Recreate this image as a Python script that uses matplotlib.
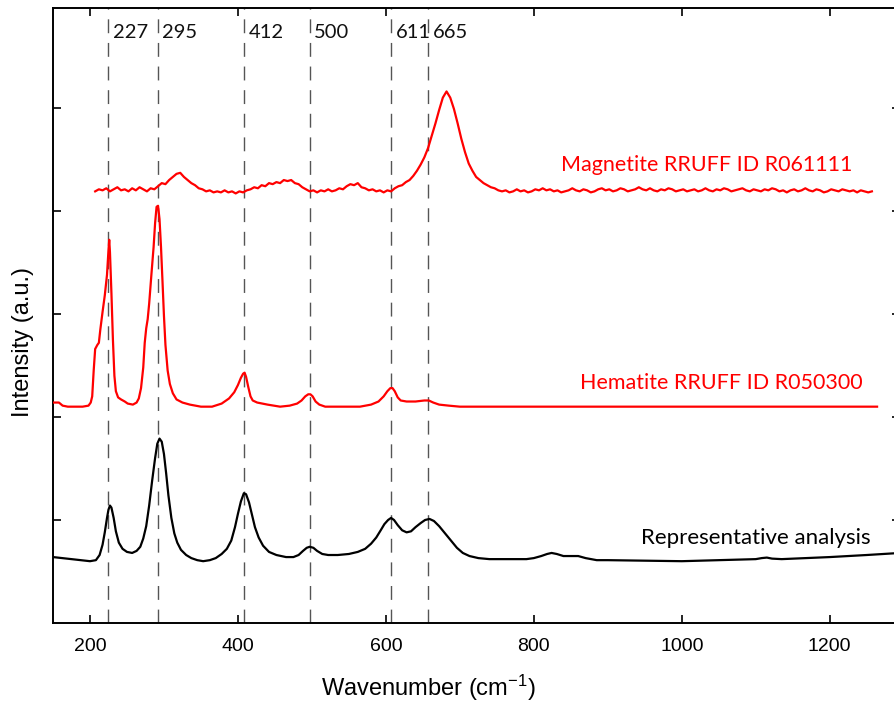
import numpy as np
import matplotlib
matplotlib.use("Agg")
import matplotlib.pyplot as plt

plt.rcParams['font.family'] = ['Liberation Sans', 'DejaVu Sans']
plt.rcParams['mathtext.default'] = 'regular'

# Representative analysis (black)
rep_x = [150, 175, 200, 208, 213, 217, 220, 223, 225, 227, 229, 232, 235, 239, 244, 250,
         257, 263, 268, 272, 276, 280, 284, 288, 291, 294, 297, 300, 303, 306, 310, 314,
         318, 323, 330, 337, 345, 353, 362, 370, 378, 385, 391, 396, 400, 404, 408, 411,
         415, 419, 423, 428, 434, 442, 452, 465, 475, 482, 488, 493, 497, 502, 507, 514,
         522, 535, 550, 562, 572, 580, 587, 593, 598, 603, 607, 611, 616, 622, 628, 634,
         640, 647, 653, 659, 665, 672, 680, 688, 696, 704, 713, 725, 740, 790, 800, 810,
         818, 824, 831, 840, 850, 860, 870, 885, 900, 1000, 1100, 1108, 1115, 1122, 1135,
         1200, 1250, 1295]
rep_y = [0.64, 0.62, 0.60, 0.61, 0.66, 0.76, 0.88, 1.02, 1.10, 1.14, 1.12, 1.02, 0.89, 0.78, 0.72, 0.69,
         0.68, 0.70, 0.74, 0.82, 0.94, 1.14, 1.38, 1.60, 1.74, 1.79, 1.76, 1.64, 1.45, 1.24, 1.02, 0.87,
         0.78, 0.71, 0.66, 0.63, 0.61, 0.60, 0.61, 0.63, 0.67, 0.72, 0.80, 0.93, 1.06, 1.18, 1.26, 1.25,
         1.17, 1.05, 0.93, 0.83, 0.75, 0.69, 0.66, 0.64, 0.64, 0.66, 0.70, 0.73, 0.74, 0.73, 0.70, 0.67,
         0.66, 0.66, 0.67, 0.69, 0.72, 0.77, 0.83, 0.90, 0.96, 1.00, 1.02, 1.00, 0.95, 0.90, 0.88, 0.89,
         0.93, 0.97, 1.00, 1.01, 0.99, 0.94, 0.87, 0.80, 0.73, 0.68, 0.65, 0.63, 0.62, 0.62, 0.63, 0.65,
         0.67, 0.68, 0.67, 0.65, 0.65, 0.65, 0.63, 0.61, 0.61, 0.60, 0.62, 0.63, 0.635, 0.625, 0.62,
         0.64, 0.66, 0.68]

# Hematite RRUFF R050300
hem_x = [150, 158, 163, 170, 190, 198, 201, 203, 205, 207, 210, 212, 214, 217, 220, 223,
         225, 226, 227, 229, 231, 233, 235, 238, 242, 247, 251, 258, 263, 266, 269, 272,
         274, 276, 278, 280, 283, 286, 288, 290, 292, 294, 296, 298, 300, 302, 305, 308,
         312, 317, 325, 335, 350, 365, 378, 388, 395, 400, 404, 407, 409, 411, 414, 417,
         420, 426, 440, 457, 470, 480, 486, 491, 495, 498, 501, 505, 510, 518, 540, 565,
         580, 590, 597, 602, 606, 609, 612, 616, 620, 628, 640, 652, 658, 664, 672, 685,
         700, 1264]
hem_y = [2.14, 2.14, 2.11, 2.10, 2.10, 2.11, 2.14, 2.20, 2.45, 2.66, 2.70, 2.72, 2.85, 3.02, 3.18, 3.38,
         3.62, 3.72, 3.60, 3.20, 2.75, 2.40, 2.25, 2.19, 2.17, 2.15, 2.13, 2.12, 2.14, 2.18, 2.28, 2.48,
         2.72, 2.86, 2.95, 3.10, 3.38, 3.65, 3.88, 4.04, 4.05, 3.92, 3.65, 3.32, 2.98, 2.70, 2.45, 2.32,
         2.23, 2.17, 2.14, 2.12, 2.10, 2.10, 2.13, 2.18, 2.24, 2.31, 2.38, 2.42, 2.43, 2.39, 2.29, 2.20,
         2.16, 2.14, 2.12, 2.10, 2.11, 2.13, 2.16, 2.20, 2.22, 2.22, 2.20, 2.15, 2.12, 2.10, 2.10, 2.10,
         2.12, 2.15, 2.20, 2.25, 2.28, 2.28, 2.25, 2.19, 2.16, 2.15, 2.15, 2.16, 2.16, 2.14, 2.12, 2.11,
         2.10, 2.10]

# Magnetite RRUFF R061111, one reading every 5 cm-1 from 207
mag_start, mag_step = 207, 5
mag_y = [4.19, 4.21, 4.20, 4.22, 4.19, 4.21, 4.23, 4.20, 4.21, 4.19, 4.22, 4.20, 4.23, 4.21, 4.19, 4.22,
         4.21,
         4.24, 4.27, 4.26, 4.30, 4.33, 4.36, 4.37, 4.33,
         4.30, 4.27, 4.25, 4.22, 4.21, 4.19, 4.20, 4.18, 4.19, 4.18, 4.20, 4.18, 4.19, 4.17, 4.19, 4.18,
         4.20,
         4.21, 4.23, 4.22, 4.25, 4.24, 4.27, 4.26, 4.28, 4.27, 4.30, 4.29, 4.30, 4.27, 4.26, 4.23, 4.21,
         4.19,
         4.20, 4.18, 4.20, 4.19, 4.21, 4.19, 4.20, 4.22, 4.21, 4.24, 4.26, 4.25, 4.27, 4.23, 4.22, 4.20,
         4.21, 4.19, 4.20, 4.18, 4.20, 4.19, 4.22,
         4.24, 4.25, 4.28, 4.30, 4.34, 4.39, 4.45, 4.52, 4.61, 4.73, 4.85, 4.98, 5.10, 5.16, 5.10, 4.99,
         4.85, 4.70, 4.57, 4.46, 4.39, 4.33, 4.30,
         4.27, 4.25, 4.23, 4.22, 4.20, 4.19,
         4.20, 4.18, 4.19, 4.21, 4.19, 4.20, 4.18, 4.19, 4.21, 4.20,
         4.22, 4.20, 4.21, 4.19, 4.20, 4.18, 4.19, 4.20, 4.22, 4.20,
         4.19, 4.21, 4.20, 4.18, 4.19, 4.21, 4.22, 4.20, 4.21, 4.19,
         4.20, 4.22, 4.21, 4.19, 4.20, 4.21, 4.23, 4.21, 4.20, 4.22,
         4.20, 4.19, 4.21, 4.20, 4.22, 4.21, 4.19, 4.20, 4.21, 4.19,
         4.20, 4.21, 4.19, 4.20, 4.22, 4.20, 4.19, 4.21, 4.20, 4.22,
         4.21, 4.19, 4.20, 4.21, 4.22, 4.20, 4.19, 4.21, 4.20, 4.19,
         4.21, 4.20, 4.22, 4.21, 4.19, 4.20, 4.18, 4.20, 4.21, 4.19,
         4.20, 4.22, 4.20, 4.19, 4.21, 4.20, 4.18, 4.19, 4.21, 4.20,
         4.19, 4.21, 4.20, 4.19, 4.20, 4.18, 4.20, 4.19, 4.18, 4.19]
mag_x = mag_start + mag_step * np.arange(len(mag_y))

# marked bands
band_pos = [224.5, 292, 408.5, 497, 607, 657]
band_labels = ['227', '295', '412', '500', '611', '665']

fig = plt.figure(figsize=(8.94, 7.04), dpi=100)
ax = fig.add_axes([53 / 894, 1 - 623 / 704, 847 / 894, 615 / 704])

for b in band_pos:
    ax.axvline(b, color='#555555', lw=1.0, dashes=(10, 7), zorder=1)

ax.plot(mag_x, mag_y, color='#ff0000', lw=1.6, zorder=3)
ax.plot(hem_x, hem_y, color='#ff0000', lw=1.6, zorder=3)
ax.plot(rep_x, rep_y, color='black', lw=1.6, zorder=3)

for b, lab in zip(band_pos, band_labels):
    ax.text(b + 6, 5.73, lab, fontsize=14.5, family=['Lato', 'DejaVu Sans'],
            ha='left', va='center', color='#111111')

ax.text(1231, 4.45, 'Magnetite RRUFF ID R061111', color='#ff0000', fontsize=15.5,
        family=['Lato', 'DejaVu Sans'], ha='right', va='center')
ax.text(1244, 2.33, 'Hematite RRUFF ID R050300', color='#ff0000', fontsize=15.5,
        family=['Lato', 'DejaVu Sans'], ha='right', va='center')
ax.text(1255, 0.825, 'Representative analysis', color='black', fontsize=16,
        family=['Lato', 'DejaVu Sans'], ha='right', va='center')

ax.set_xlim(150, 1295)
ax.set_ylim(0, 5.97)
ax.set_xticks([200, 400, 600, 800, 1000, 1200])
ax.set_yticks([1, 2, 3, 4, 5])
ax.set_yticklabels([])
ax.tick_params(direction='in', top=True, right=True, length=6, width=1.2,
               labelsize=14, pad=11)
for s in ax.spines.values():
    s.set_linewidth(1.4)

fig.text(428 / 894, 1 - 688 / 704, 'Wavenumber (cm$^{-1}$)', fontsize=17,
         ha='center', va='center')
fig.text(23 / 894, 1 - 342 / 704, 'Intensity (a.u.)', fontsize=17,
         rotation=90, ha='center', va='center')

fig.savefig('out.png', dpi=100)
